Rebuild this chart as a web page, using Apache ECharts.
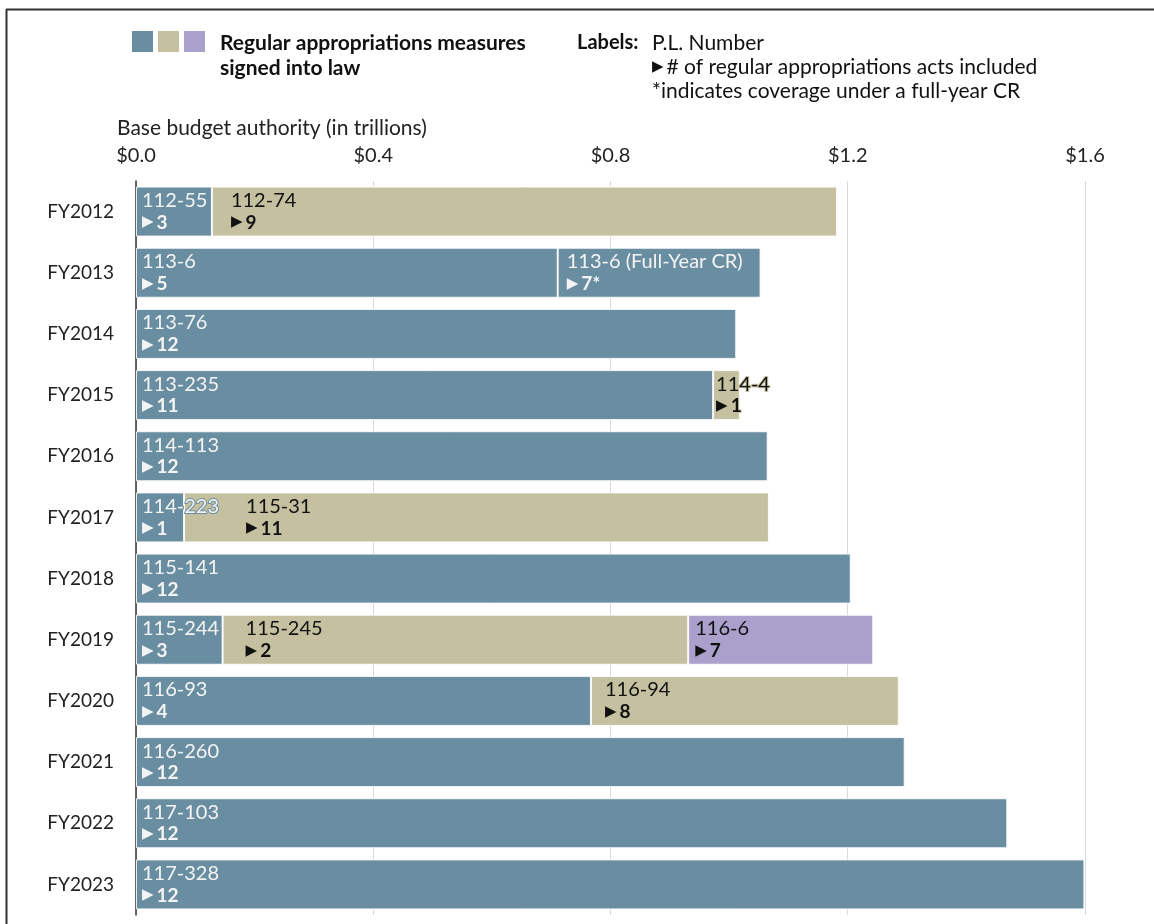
<!DOCTYPE html>
<html><head><meta charset="utf-8">
<script src="https://cdn.jsdelivr.net/npm/echarts@6/dist/echarts.min.js"></script>
<style>html,body{margin:0;padding:0;background:#fff}#c{width:1154px;height:924px}</style>
</head><body><div id="c"></div>
<script>
// ---- data ----
const categories = ['FY2012','FY2013','FY2014','FY2015','FY2016','FY2017','FY2018','FY2019','FY2020','FY2021','FY2022','FY2023'];
const firstMeasure  = [0.128, 0.711, 1.012, 0.973, 1.065, 0.081, 1.205, 0.146, 0.767, 1.296, 1.469, 1.599];
const secondMeasure = [1.054, 0.342, null, 0.045, null, 0.986, null, 0.785, 0.519, null, null, null];
const thirdMeasure  = [null, null, null, null, null, null, null, 0.312, null, null, null, null];
const firstPL   = ['112-55','113-6','113-76','113-235','114-113','114-223','115-141','115-244','116-93','116-260','117-103','117-328'];
const firstActs = ['3','5','12','11','12','1','12','3','4','12','12','12'];
const secondPL   = ['112-74','113-6 (Full-Year CR)','','114-4','','115-31','','115-245','116-94','','',''];
const secondActs = ['9','7*','','1','','11','','2','8','','',''];
const thirdPL   = ['','','','','','','','116-6','','','',''];
const thirdActs = ['','','','','','','','7','','','',''];
const fullYearCRCategories = ['FY2013'];
const xTicks = [0, 0.4, 0.8, 1.2, 1.6];

// ---- styles (not data) ----
const BLUE = '#6a8ea1', TAN = '#c4c0a0', PURPLE = '#a9a0cb';
const FONT = 'Lato';
const secondLabelShift = {FY2012: 13, FY2013: 3, FY2015: -3, FY2017: 56, FY2019: 17, FY2020: 8};
const thirdLabelShift = {FY2019: 1};

function labelRich(light, halo) {
  const c = light ? '#f4f4f4' : '#111';
  const b = {textBorderColor: halo, textBorderWidth: 2};
  return {
    pl: Object.assign({fontFamily: FONT, fontSize: 20, color: c, lineHeight: 22}, b),
    tri: Object.assign({fontFamily: 'DejaVu Sans', fontSize: 15, color: c, lineHeight: 22, padding: [0, 3, 0, 0]}, b),
    n: Object.assign({fontFamily: FONT, fontSize: 19, fontWeight: 'bold', color: c, lineHeight: 22}, b)
  };
}
function makeItem(v, i, color, pl, acts, shift) {
  if (v == null) return {value: null};
  const light = color === BLUE;
  return {
    value: v,
    itemStyle: {color: color},
    label: {
      show: true, position: 'insideLeft', distance: 6, offset: [shift || 0, 0],
      formatter: '{pl|' + pl[i] + '}\n{tri|▶}{n|' + acts[i] + '}',
      rich: labelRich(light, color)
    }
  };
}
const common = {type: 'bar', stack: 'total', barCategoryGap: '18.3%',
  itemStyle: {borderColor: 'rgba(255,255,255,0.85)', borderWidth: 1}, emphasis: {disabled: true}};

const s1 = firstMeasure.map((v, i) => makeItem(v, i, BLUE, firstPL, firstActs, 0));
const s2 = secondMeasure.map((v, i) => makeItem(v, i,
  fullYearCRCategories.includes(categories[i]) ? BLUE : TAN, secondPL, secondActs, secondLabelShift[categories[i]]));
const s3 = thirdMeasure.map((v, i) => makeItem(v, i, PURPLE, thirdPL, thirdActs, thirdLabelShift[categories[i]]));

const txt = (x, y, text, extra) => ({type: 'text', x: x, y: y,
  style: Object.assign({text: text, fontFamily: FONT, fontSize: 21, fill: '#111', verticalAlign: 'middle'}, extra || {})});

const chart = echarts.init(document.getElementById('c'), null, {renderer: 'canvas'});
chart.setOption({
  animation: false,
  backgroundColor: '#fff',
  textStyle: {fontFamily: FONT},
  grid: {left: 136, right: 69, top: 181, bottom: 9},
  xAxis: {
    type: 'value', position: 'top', min: xTicks[0], max: xTicks[xTicks.length - 1], interval: xTicks[1] - xTicks[0],
    axisLine: {show: false}, axisTick: {show: false},
    splitLine: {show: true, lineStyle: {color: '#d9d9d9', width: 1}},
    axisLabel: {formatter: v => '$' + v.toFixed(1), fontFamily: FONT, fontSize: 20, color: '#222', margin: 15}
  },
  yAxis: {
    type: 'category', inverse: true, data: categories,
    axisLine: {show: true, lineStyle: {color: '#333', width: 1.5}}, axisTick: {show: false},
    axisLabel: {fontFamily: FONT, fontSize: 19, color: '#222', margin: 22}
  },
  series: [
    Object.assign({name: 'first', data: s1}, common),
    Object.assign({name: 'second', data: s2}, common),
    Object.assign({name: 'third', data: s3}, common)
  ],
  graphic: [
    {type: 'line', shape: {x1: 6, y1: 9.5, x2: 1154, y2: 9.5}, style: {stroke: '#333', lineWidth: 2}},
    {type: 'line', shape: {x1: 6.5, y1: 9, x2: 6.5, y2: 924}, style: {stroke: '#333', lineWidth: 2}},
    {type: 'rect', shape: {x: 132, y: 31, width: 21, height: 21}, style: {fill: BLUE}},
    {type: 'rect', shape: {x: 158, y: 31, width: 21, height: 21}, style: {fill: TAN}},
    {type: 'rect', shape: {x: 184, y: 31, width: 21, height: 21}, style: {fill: PURPLE}},
    txt(220, 43, 'Regular appropriations measures', {fontWeight: 'bold'}),
    txt(220, 68, 'signed into law', {fontWeight: 'bold'}),
    txt(577, 43, 'Labels:', {fontWeight: 'bold', fontSize: 20}),
    txt(652, 43, 'P.L. Number'),
    {type: 'text', x: 652, y: 67, style: {
      text: '{tri|▶}{t|# of regular appropriations acts included}', verticalAlign: 'middle',
      rich: {tri: {fontFamily: 'DejaVu Sans', fontSize: 15, fill: '#111', padding: [0, 3, 0, 0]}, t: {fontFamily: FONT, fontSize: 21, fill: '#111'}}}},
    txt(652, 91, '*indicates coverage under a full-year CR'),
    txt(117, 128, 'Base budget authority (in trillions)', {fill: '#222'})
  ]
});
</script></body></html>
